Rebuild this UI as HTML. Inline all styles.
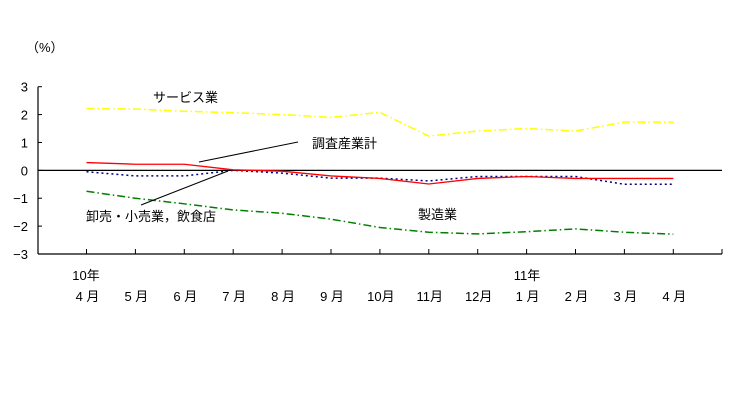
<!DOCTYPE html>
<html><head><meta charset="utf-8"><style>
body{margin:0;background:#fff;}
svg{display:block;font-family:"Liberation Sans","Noto Sans CJK JP",sans-serif;}
</style></head><body>
<svg id="chart" width="746" height="406" viewBox="0 0 746 406" xmlns="http://www.w3.org/2000/svg">
<rect width="746" height="406" fill="#fff"/>
<g id="axes"></g>
<g id="series"></g>
<g id="labels"></g>
</svg>
<script>
const months = ["4 月","5 月","6 月","7 月","8 月","9 月","10月","11月","12月","1 月","2 月","3 月","4 月"];
const yTicks = [3,2,1,0,-1,-2,-3];
const serviceVals = [2.22,2.2,2.12,2.07,2.0,1.9,2.08,1.23,1.41,1.5,1.41,1.73,1.73];
const totalVals = [0.28,0.22,0.22,0.02,-0.03,-0.2,-0.29,-0.49,-0.29,-0.22,-0.29,-0.29,-0.29];
const retailVals = [-0.05,-0.2,-0.2,0,-0.1,-0.28,-0.28,-0.38,-0.22,-0.22,-0.22,-0.5,-0.5];
const mfgVals = [-0.75,-1.0,-1.2,-1.42,-1.54,-1.75,-2.05,-2.22,-2.28,-2.2,-2.1,-2.22,-2.29];
const NS="http://www.w3.org/2000/svg";
const x0=38, x1=722, firstX=86.5, step=48.9;
const yTop=86.7, yBot=254;
function xs(i){return firstX+i*step;}
function ys(v){return yTop+(3-v)*(yBot-yTop)/6;}
function mk(tag,attrs,parent){const e=document.createElementNS(NS,tag);for(const k in attrs)e.setAttribute(k,attrs[k]);parent.appendChild(e);return e;}
const axes=document.getElementById('axes'), series=document.getElementById('series'), labels=document.getElementById('labels');

let ya=mk('line',{x1:x0,y1:yTop,x2:x0,y2:yBot,stroke:'#000','stroke-width':1.2},axes);


let xa=mk('line',{x1:x0,y1:yBot,x2:x1,y2:yBot,stroke:'#000','stroke-width':1.2},axes);


let zl=mk('line',{x1:x0,y1:ys(0),x2:x1,y2:ys(0),stroke:'#000','stroke-width':1.2},axes);


yTicks.forEach(v=>{
  const t=mk('line',{x1:x0,y1:ys(v),x2:x0+4,y2:ys(v),stroke:'#000'},axes);
  
  
  const l=mk('text',{x:x0-10,y:ys(v)+5,'text-anchor':'end','font-size':13},labels);
  l.textContent=(v<0?'−':'')+Math.abs(v);
  
  
});
for(let i=0;i<=months.length;i++){
  const xx=i<months.length?xs(i):x1;
  const t=mk('line',{x1:xx,y1:yBot,x2:xx,y2:yBot-5,stroke:'#000'},axes);
  
  
}
months.forEach((m,i)=>{
  const l=mk('text',{x:xs(i)+1,y:301,'text-anchor':'middle','font-size':13},labels);
  l.textContent=m;
  
  
});
function drawSeries(vals,color,dash,name,w){
  const p=mk('polyline',{points:vals.map((v,i)=>xs(i)+','+ys(v)).join(' '),fill:'none',stroke:color,'stroke-width':w,'stroke-dasharray':dash},series);
  
  
}
drawSeries(serviceVals,'#ffff00','8 3 1.5 3','service-line',1.5);
drawSeries(mfgVals,'#008000','8 3 1.5 3','manufacturing-line',1.5);
drawSeries(retailVals,'#000080','2 3','retail-line',1.5);
drawSeries(totalVals,'#ff0000','none','total-line',1.3);
</script>
<script>
(function(){
const L=document.getElementById('labels');const NS="http://www.w3.org/2000/svg";
function t(x,y,s,name,anchor){const e=document.createElementNS(NS,'text');e.setAttribute('x',x);e.setAttribute('y',y);e.setAttribute('font-size',13);e.setAttribute('text-anchor',anchor||'start');e.textContent=s;


L.appendChild(e);}
function ln(a,b,c,d,name){const e=document.createElementNS(NS,'line');e.setAttribute('x1',a);e.setAttribute('y1',b);e.setAttribute('x2',c);e.setAttribute('y2',d);e.setAttribute('stroke','#000');


L.appendChild(e);}
t(26,52,'（%）','y-axis-unit');
t(153,102,'サービス業','label-service');
t(312,148,'調査産業計','label-total');
t(86,221,'卸売・小売業，飲食店','label-retail');
t(418,219,'製造業','label-manufacturing');
t(86,280,'10年','year-label-2010','middle');
t(527,280,'11年','year-label-2011','middle');
ln(199,162,298,142,'leader-total');
ln(141,205,228,171,'leader-retail');
})();
</script>
</body></html>
